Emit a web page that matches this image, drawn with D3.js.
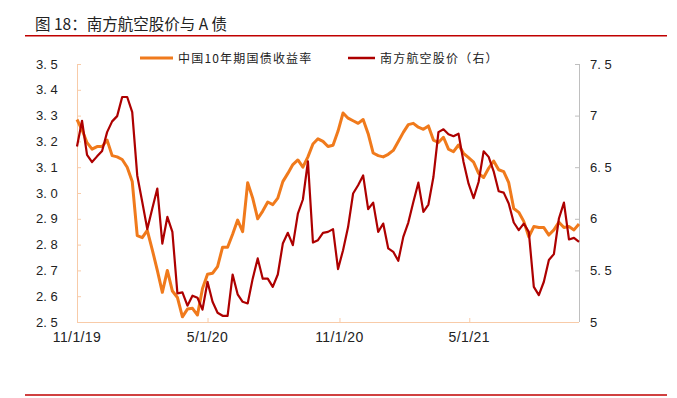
<!DOCTYPE html>
<html lang="zh">
<head>
<meta charset="UTF-8">
<title>南方航空股价与A债</title>
<script src="https://cdn.jsdelivr.net/npm/d3@7/dist/d3.min.js"></script>
<style>
    body { margin: 0; background: #fff; }
    svg text { font-family: "Liberation Sans", Arial, "Noto Sans CJK SC", sans-serif; fill: #222; }
    .cjk { font-family: "Noto Sans CJK SC", sans-serif; }
</style>
</head>
<body>
<svg id="chart"></svg>
<script>
    var width = 677, height = 398;

    // weekly observations, first one on 2019-11-01
    var startDate = new Date(2019, 10, 1);

    // 中国10年期国债收益率 (left axis, %)
    var yieldValues = [
        3.285, 3.245, 3.195, 3.17, 3.18, 3.18, 3.205, 3.145, 3.14, 3.13,
        3.10, 3.045, 2.835, 2.827, 2.855, 2.78, 2.70, 2.615, 2.70, 2.62,
        2.595, 2.52, 2.55, 2.553, 2.527, 2.63, 2.685, 2.689, 2.715, 2.79,
        2.79, 2.84, 2.895, 2.85, 3.04, 2.98, 2.90, 2.93, 2.965, 2.955,
        2.98, 3.044, 3.076, 3.11, 3.128, 3.10, 3.14, 3.19, 3.21, 3.20,
        3.18, 3.185, 3.24, 3.31, 3.29, 3.28, 3.27, 3.285, 3.23, 3.155,
        3.145, 3.14, 3.15, 3.165, 3.20, 3.235, 3.265, 3.27, 3.255, 3.247,
        3.26, 3.205, 3.196, 3.216, 3.17, 3.16, 3.186, 3.154, 3.137, 3.12,
        3.076, 3.06, 3.096, 3.124, 3.09, 3.083, 3.04, 2.94, 2.925, 2.89,
        2.83, 2.87, 2.866, 2.866, 2.837, 2.857, 2.887, 2.866, 2.87, 2.857,
        2.88
    ];

    // 南方航空股价 (right axis)
    var priceValues = [
        6.70, 6.95, 6.62, 6.55, 6.605, 6.657, 6.84, 6.944, 6.995, 7.18,
        7.18, 7.034, 6.42, 6.163, 5.90, 6.10, 6.293, 5.76, 6.018, 5.873,
        5.278, 5.287, 5.158, 5.255, 5.235, 5.12, 5.39, 5.196, 5.09, 5.06,
        5.06, 5.46, 5.268, 5.196, 5.18, 5.42, 5.616, 5.42, 5.42, 5.34,
        5.46, 5.76, 5.864, 5.745, 6.05, 6.187, 6.557, 5.77, 5.793, 5.864,
        5.873, 5.90, 5.513, 5.696, 5.92, 6.245, 6.325, 6.42, 6.093, 6.157,
        5.873, 5.954, 5.713, 5.68, 5.593, 5.825, 5.964, 6.163, 6.35, 6.067,
        6.138, 6.405, 6.84, 6.867, 6.82, 6.80, 6.825, 6.55, 6.34, 6.20,
        6.357, 6.654, 6.60, 6.46, 6.267, 6.254, 6.148, 5.964, 5.89, 5.954,
        5.873, 5.34, 5.26, 5.39, 5.60, 5.658, 6.003, 6.157, 5.80, 5.815,
        5.777
    ];

    var xTickDates = [new Date(2019, 10, 1), new Date(2020, 4, 1), new Date(2020, 10, 1), new Date(2021, 4, 1)];
    var leftTicks = [2.5, 2.6, 2.7, 2.8, 2.9, 3.0, 3.1, 3.2, 3.3, 3.4, 3.5];
    var rightTicks = [5, 5.5, 6, 6.5, 7, 7.5];
    var seriesNames = ['中国10年期国债收益率', '南方航空股价（右）'];

    var dates = yieldValues.map(function (v, i) {
        return d3.timeDay.offset(startDate, i * 7);
    });

    var margin = {left: 77, right: 98, top: 64, bottom: 76};
    var plotW = width - margin.left - margin.right;
    var plotH = height - margin.top - margin.bottom;

    var svg = d3.select('#chart')
        .attr('width', width)
        .attr('height', height);

    // title and rules
    svg.append('text')
        .attr('class', 'cjk')
        .attr('x', 35)
        .attr('y', 30)
        .attr('font-size', 15.5)
        .text('图 18：南方航空股价与 A 债');

    svg.append('line')
        .attr('x1', 25).attr('x2', 667)
        .attr('y1', 35.8).attr('y2', 35.8)
        .attr('stroke', '#c00000').attr('stroke-width', 1.6);

    svg.append('line')
        .attr('x1', 25).attr('x2', 667)
        .attr('y1', 395).attr('y2', 395)
        .attr('stroke', '#c00000').attr('stroke-width', 1.6);

    var x = d3.scaleTime()
        .domain([startDate, d3.timeDay.offset(startDate, 700)])
        .range([0, plotW]);

    var yL = d3.scaleLinear().domain([2.5, 3.5]).range([plotH, 0]);
    var yR = d3.scaleLinear().domain([5, 7.5]).range([plotH, 0]);

    var g = svg.append('g')
        .attr('transform', 'translate(' + margin.left + ',' + margin.top + ')');

    // left axis
    var leftAxis = g.append('g')
        .call(d3.axisRight(yL).tickValues(leftTicks).tickSize(4).tickFormat(''));
    leftAxis.selectAll('line, path').attr('stroke', '#f8cba8');
    leftAxis.select('.domain').attr('d', 'M0.5,0V' + plotH);

    g.selectAll('.ltick')
        .data(leftTicks)
        .enter().append('text')
        .attr('x', -41)
        .attr('y', function (d) { return yL(d) + 4.5; })
        .attr('font-size', 13)
        .text(function (d) { return d3.format('.1f')(d).replace('.', '. '); });

    // right axis
    var rightAxis = g.append('g')
        .attr('transform', 'translate(' + plotW + ',0)')
        .call(d3.axisLeft(yR).tickValues(rightTicks).tickSize(4).tickFormat(''));
    rightAxis.selectAll('line, path').attr('stroke', '#bfbfbf');
    rightAxis.select('.domain').attr('d', 'M0.5,0V' + plotH);

    g.selectAll('.rtick')
        .data(rightTicks)
        .enter().append('text')
        .attr('x', plotW + 11)
        .attr('y', function (d) { return yR(d) + 4.5; })
        .attr('font-size', 13)
        .text(function (d) { return d3.format('~g')(d).replace('.', '. '); });

    // bottom axis
    var bottomAxis = g.append('g')
        .attr('transform', 'translate(0,' + plotH + ')')
        .call(d3.axisTop(x).tickValues(xTickDates).tickSize(4).tickFormat(''));
    bottomAxis.selectAll('line, path').attr('stroke', '#f8cba8');
    bottomAxis.select('.domain').attr('d', 'M0,0.5H' + plotW);

    g.selectAll('.xtick')
        .data(xTickDates)
        .enter().append('text')
        .attr('x', function (d) { return x(d); })
        .attr('y', plotH + 20)
        .attr('text-anchor', 'middle')
        .attr('font-size', 14)
        .attr('letter-spacing', 0.4)
        .text(function (d) { return (d.getMonth() + 1) + '/' + d.getDate() + '/' + String(d.getFullYear()).slice(2); });

    // lines
    var yieldLine = d3.line()
        .x(function (d, i) { return x(dates[i]); })
        .y(function (d) { return yL(d); });

    var priceLine = d3.line()
        .x(function (d, i) { return x(dates[i]); })
        .y(function (d) { return yR(d); });

    g.append('path')
        .datum(yieldValues)
        .attr('fill', 'none')
        .attr('stroke', '#f07a1c')
        .attr('stroke-width', 3)
        .attr('stroke-linejoin', 'round')
        .attr('d', yieldLine);

    g.append('path')
        .datum(priceValues)
        .attr('fill', 'none')
        .attr('stroke', '#ad0000')
        .attr('stroke-width', 2.2)
        .attr('stroke-linejoin', 'round')
        .attr('d', priceLine);

    // legend
    var legendItems = [
        {name: seriesNames[0], color: '#f07a1c', w: 3, x1: 140, x2: 173},
        {name: seriesNames[1], color: '#ad0000', w: 2.5, x1: 348, x2: 375}
    ];
    var legend = svg.append('g');
    legendItems.forEach(function (it) {
        legend.append('line')
            .attr('x1', it.x1).attr('x2', it.x2)
            .attr('y1', 58).attr('y2', 58)
            .attr('stroke', it.color).attr('stroke-width', it.w);
        legend.append('text')
            .attr('class', 'cjk')
            .attr('x', it.x2 + 5)
            .attr('y', 62.5)
            .attr('font-size', 12)
            .attr('letter-spacing', 1.2)
            .attr('fill', '#333')
            .text(it.name);
    });
</script>
</body>
</html>
